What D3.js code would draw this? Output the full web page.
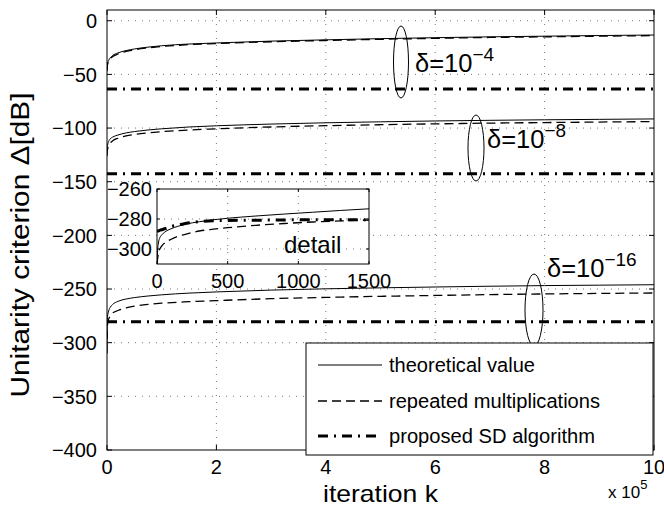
<!DOCTYPE html>
<html><head><meta charset="utf-8">
<script src="https://cdn.jsdelivr.net/npm/d3@7"></script>
<style>
body{margin:0;background:#fff}
svg{display:block}
text{font-family:"Liberation Sans",Arial,Helvetica,sans-serif;fill:#000}
</style>
</head><body>
<svg id="c" width="664" height="516"></svg>
<script>
// ---------- data ----------
const kMain = [0,1000,3000,6000,10000,20000,35000,50000,75000,100000,150000,200000,300000,400000,500000,600000,700000,800000,900000,1000000];
const theo4  = [-46,-40,-37,-34.5,-32.5,-30,-27.8,-26.3,-24.6,-23.3,-21.7,-20.7,-19,-17.8,-16.7,-15.8,-15,-14.4,-13.8,-13.3];
const rep4   = [-47,-41,-38,-35.5,-33.5,-31,-28.6,-27,-25.3,-24,-22.3,-21.3,-19.6,-18.4,-17.3,-16.4,-15.6,-15,-14.4,-13.9];
const theo8  = [-122,-116,-112.5,-110,-108.5,-106.5,-104.5,-103.3,-101.8,-100.7,-99,-97.9,-96.3,-95.1,-94.2,-93.4,-92.8,-92.3,-91.9,-91.5];
const rep8   = [-126,-120,-116.5,-114,-112,-109.5,-107.3,-106,-104.5,-103.4,-101.8,-100.7,-99,-97.8,-96.9,-96.1,-95.4,-94.9,-94.4,-94];
const theo16 = [-302,-275.5,-270.5,-267,-264.5,-261.5,-259.3,-258,-256.5,-255.4,-253.8,-252.7,-251,-249.8,-248.9,-248.1,-247.4,-246.8,-246.4,-246];
const rep16  = [-310,-282.5,-278,-275,-272.5,-270,-267.5,-266,-264.3,-263.2,-261.8,-260.8,-259,-257.8,-256.8,-256,-255.2,-254.6,-254.1,-253.7];
const kSD  = [0, 1000000];
const sd4  = [-63.5, -63.5];
const sd8  = [-142.5, -142.5];
const sd16 = [-280.5, -280.5];

const kInset     = [0,5,10,20,40,70,100,150,200,300,400,500,700,900,1100,1300,1500];
const theo16In   = [-310,-300,-296,-292.5,-290,-287.8,-286.5,-284.8,-283.5,-281.8,-280.5,-279.5,-278,-276.7,-275.5,-274.3,-273.2];
const rep16In    = [-310,-306,-303,-300,-297.3,-295,-293.5,-291.5,-290.2,-288,-286.8,-285.8,-284.2,-283,-282,-281.3,-280.7];
const sd16In     = [-288,-288,-288,-287.5,-287,-286,-285,-284,-283,-281.8,-281.2,-281,-280.8,-280.6,-280.5,-280.5,-280.4];

const xTicks = [0,200000,400000,600000,800000,1000000];
const xTickLabels = ["0","2","4","6","8","10"];
const yTicks = [0,-50,-100,-150,-200,-250,-300,-350,-400];
const yTickLabels = ["0","\u221250","\u2212100","\u2212150","\u2212200","\u2212250","\u2212300","\u2212350","\u2212400"];
const xTicksIn = [0,500,1000,1500];
const xTickLabelsIn = ["0","500","1000","1500"];
const yTicksIn = [-260,-280,-300];
const yTickLabelsIn = ["\u2212260","\u2212280","\u2212300"];
const legendLabels = ["theoretical value","repeated multiplications","proposed SD algorithm"];
const deltaLabels = [{base:"\u03b4=10", exp:"\u22124"},{base:"\u03b4=10", exp:"\u22128"},{base:"\u03b4=10", exp:"\u221216"}];

// ---------- styles ----------
const styles = {
  theo: {w:1, dash:null},
  rep:  {w:1.3, dash:"9,5"},
  sd:   {w:3, dash:"10,6,2,6"}
};

const svg = d3.select("#c");
const L=107, T=10, R=654, B=450;
const x = d3.scaleLinear().domain([0,1000000]).range([L,R]);
const y = d3.scaleLinear().domain([-400,10]).range([B,T]);

svg.append("rect").attr("width",664).attr("height",516).attr("fill","#fff");

const defs = svg.append("defs");
defs.append("clipPath").attr("id","clipMain").append("rect").attr("x",L).attr("y",T).attr("width",R-L).attr("height",B-T);

// grid
const grid = svg.append("g").attr("stroke","#666").attr("stroke-width",0.9).attr("stroke-dasharray","1,6");
grid.selectAll(".gx").data(xTicks.slice(1,-1)).join("line").attr("x1",d=>x(d)).attr("x2",d=>x(d)).attr("y1",T).attr("y2",B);
grid.selectAll(".gy").data(yTicks.slice(0,-1)).join("line").attr("x1",L).attr("x2",R).attr("y1",d=>y(d)).attr("y2",d=>y(d));

// curves
function drawSeries(g, ks, vs, sx, sy, st){
  const line = d3.line().x(d=>sx(d[0])).y(d=>sy(d[1])).curve(d3.curveMonotoneX);
  const p = g.append("path").datum(ks.map((k,i)=>[k,vs[i]])).attr("d",line)
    .attr("fill","none").attr("stroke","#000").attr("stroke-width",st.w);
  if(st.dash) p.attr("stroke-dasharray",st.dash);
  return p;
}
const cg = svg.append("g").attr("clip-path","url(#clipMain)");
drawSeries(cg,kMain,theo4,x,y,styles.theo);
drawSeries(cg,kMain,rep4,x,y,styles.rep);
drawSeries(cg,kSD,sd4,x,y,styles.sd);
drawSeries(cg,kMain,theo8,x,y,styles.theo);
drawSeries(cg,kMain,rep8,x,y,styles.rep);
drawSeries(cg,kSD,sd8,x,y,styles.sd);
drawSeries(cg,kMain,theo16,x,y,styles.theo);
drawSeries(cg,kMain,rep16,x,y,styles.rep);
drawSeries(cg,kSD,sd16,x,y,styles.sd);

// frame + ticks
svg.append("rect").attr("x",L).attr("y",T).attr("width",R-L).attr("height",B-T).attr("fill","none").attr("stroke","#000").attr("stroke-width",1);
const tk = svg.append("g").attr("stroke","#000").attr("stroke-width",1);
xTicks.forEach(d=>{
  tk.append("line").attr("x1",x(d)).attr("x2",x(d)).attr("y1",B).attr("y2",B-5);
  tk.append("line").attr("x1",x(d)).attr("x2",x(d)).attr("y1",T).attr("y2",T+5);
});
yTicks.forEach(d=>{
  tk.append("line").attr("x1",L).attr("x2",L+5).attr("y1",y(d)).attr("y2",y(d));
  tk.append("line").attr("x1",R).attr("x2",R-5).attr("y1",y(d)).attr("y2",y(d));
});
svg.append("g").selectAll("text").data(xTicks).join("text")
  .attr("x",d=>x(d)).attr("y",474).attr("text-anchor","middle").attr("font-size",20)
  .text((d,i)=>xTickLabels[i]);
svg.append("g").selectAll("text").data(yTicks).join("text")
  .attr("x",97).attr("y",d=>y(d)).attr("dy","0.36em").attr("text-anchor","end").attr("font-size",20)
  .text((d,i)=>yTickLabels[i]);

// ---------- inset ----------
const iL=157, iT=189, iR=369, iB=264;
const xi = d3.scaleLinear().domain([0,1500]).range([iL,iR]);
const yi = d3.scaleLinear().domain([-310,-260]).range([iB,iT]);
defs.append("clipPath").attr("id","clipIn").append("rect").attr("x",iL).attr("y",iT).attr("width",iR-iL).attr("height",iB-iT);
svg.append("rect").attr("x",iL).attr("y",iT).attr("width",iR-iL).attr("height",iB-iT).attr("fill","#fff");
const gi = svg.append("g").attr("stroke","#666").attr("stroke-width",0.9).attr("stroke-dasharray","1,6");
gi.selectAll(".a").data(xTicksIn.slice(1,-1)).join("line").attr("x1",d=>xi(d)).attr("x2",d=>xi(d)).attr("y1",iT).attr("y2",iB);
gi.selectAll(".b").data(yTicksIn.slice(1)).join("line").attr("x1",iL).attr("x2",iR).attr("y1",d=>yi(d)).attr("y2",d=>yi(d));
const ci = svg.append("g").attr("clip-path","url(#clipIn)");
drawSeries(ci,kInset,theo16In,xi,yi,styles.theo);
drawSeries(ci,kInset,rep16In,xi,yi,styles.rep);
drawSeries(ci,kInset,sd16In,xi,yi,styles.sd);
svg.append("rect").attr("x",iL).attr("y",iT).attr("width",iR-iL).attr("height",iB-iT).attr("fill","none").attr("stroke","#000").attr("stroke-width",1);
const tki = svg.append("g").attr("stroke","#000").attr("stroke-width",1);
xTicksIn.forEach(d=>{
  tki.append("line").attr("x1",xi(d)).attr("x2",xi(d)).attr("y1",iB).attr("y2",iB-3);
  tki.append("line").attr("x1",xi(d)).attr("x2",xi(d)).attr("y1",iT).attr("y2",iT+3);
});
yTicksIn.forEach(d=>{
  tki.append("line").attr("x1",iL).attr("x2",iL+3).attr("y1",yi(d)).attr("y2",yi(d));
  tki.append("line").attr("x1",iR).attr("x2",iR-3).attr("y1",yi(d)).attr("y2",yi(d));
});
svg.append("g").selectAll("text").data(xTicksIn).join("text")
  .attr("x",d=>xi(d)).attr("y",288).attr("text-anchor","middle").attr("font-size",20)
  .text((d,i)=>xTickLabelsIn[i]);
svg.append("g").selectAll("text").data(yTicksIn).join("text")
  .attr("x",152).attr("y",d=>yi(d)).attr("dy","0.36em").attr("text-anchor","end").attr("font-size",20)
  .text((d,i)=>yTickLabelsIn[i]);
svg.append("text").attr("x",284).attr("y",253).attr("font-size",24).text("detail");

// ---------- annotations ----------
const ell = [{cx:401,cy:62,rx:7.5,ry:36},{cx:476,cy:148,rx:8,ry:33},{cx:534,cy:310,rx:9,ry:36}];
svg.append("g").selectAll("ellipse").data(ell).join("ellipse")
  .attr("cx",d=>d.cx).attr("cy",d=>d.cy).attr("rx",d=>d.rx).attr("ry",d=>d.ry)
  .attr("fill","none").attr("stroke","#000").attr("stroke-width",1);
const dpos = [{x:415,y:72},{x:487,y:148},{x:547,y:277}];
deltaLabels.forEach((d,i)=>{
  const t = svg.append("text").attr("x",dpos[i].x).attr("y",dpos[i].y).attr("font-size",25.5);
  t.append("tspan").text(d.base);
  t.append("tspan").attr("dy",-11).attr("font-size",19).text(d.exp);
});

// ---------- legend ----------
const lg = svg.append("g");
lg.append("rect").attr("x",306).attr("y",343).attr("width",347).attr("height",112).attr("fill","#fff").attr("stroke","#000").attr("stroke-width",1);
const rowsY = [365,401,436];
const rowStyles = [styles.theo, styles.rep, styles.sd];
const legendLen = [146,211,206];
rowsY.forEach((ry,i)=>{
  const l = lg.append("line").attr("x1",318).attr("x2",382).attr("y1",ry).attr("y2",ry)
    .attr("stroke","#000").attr("stroke-width",rowStyles[i].w);
  if(rowStyles[i].dash) l.attr("stroke-dasharray",rowStyles[i].dash);
  lg.append("text").attr("x",389).attr("y",ry+7).attr("font-size",20)
    .attr("textLength",legendLen[i]).attr("lengthAdjust","spacingAndGlyphs").text(legendLabels[i]);
});

// ---------- axis titles ----------
svg.append("text").attr("transform","translate(29,245) rotate(-90)").attr("text-anchor","middle")
  .attr("font-size",26).attr("textLength",305).attr("lengthAdjust","spacingAndGlyphs")
  .text("Unitarity criterion \u0394[dB]");
svg.append("text").attr("x",380.5).attr("y",502).attr("text-anchor","middle")
  .attr("font-size",24).attr("textLength",115).attr("lengthAdjust","spacingAndGlyphs")
  .text("iteration k");
const xm = svg.append("text").attr("x",608).attr("y",498).attr("font-size",17);
xm.append("tspan").text("x 10");
xm.append("tspan").attr("dy",-9).attr("font-size",13).text("5");
</script>
</body></html>
